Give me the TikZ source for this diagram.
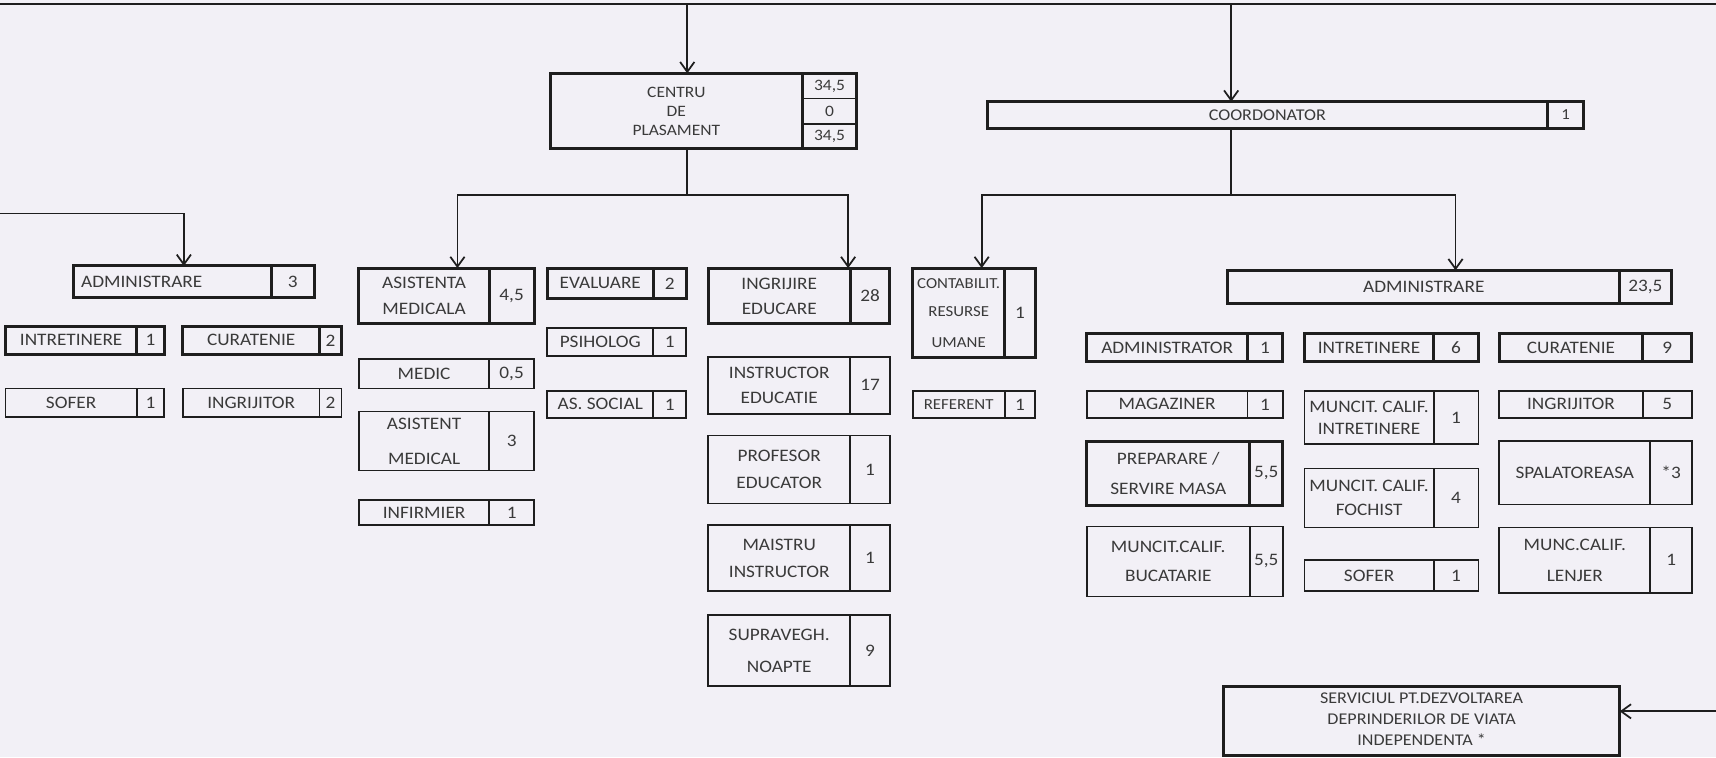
\documentclass[tikz,border=0pt]{standalone}
\usepackage{fontspec}
\setmainfont{Carlito}[FakeStretch=1.1]
\usetikzlibrary{arrows.meta,fit}
\definecolor{bg}{HTML}{F2F0F6}
\definecolor{ln}{HTML}{1E1E1E}
\definecolor{tx}{HTML}{3A3A3A}
\newcommand\smf{\fontsize{14}{24}\selectfont}
\tikzset{
  boxs/.style={draw=ln, inner sep=0pt, outer sep=0pt},
  bk/.style={line width=2.8pt},
  bn/.style={line width=1.6pt},
  lbl/.style={text=tx, align=center, font=\fontsize{16}{24}\selectfont, inner sep=0pt},
  num/.style={text=tx, font=\fontsize{16}{20}\selectfont, inner sep=0pt},
  con/.style={draw=ln, line width=1.6pt},
  arr/.style={con, -{Straight Barb[length=9pt,width=13pt]}},
}
% name, x1, y1, x2, y2, divider x, label, number, line style
\newcommand\obox[9]{%
  \node[boxs,#9,fit={(#2,#3) (#4,#5)}] (#1) {};
  \draw[ln,#9] (#6,#3) -- (#6,#5);
  \node[lbl] at ({(#2+#6)/2},{(#3+#5)/2}) {#7};
  \node[num] at ({(#6+#4)/2},{(#3+#5)/2}) {#8};
}
\begin{document}
\begin{tikzpicture}[x=1pt,y=-1pt]
\useasboundingbox[fill=bg] (0,0) rectangle (1568,692);

% top level boxes
\node[boxs,bk,fit={(503,67) (783,136)}] (centru) {};
\draw[ln,bk] (733,67) -- (733,136);
\draw[ln,bn] (733,90) -- (783,90);
\draw[ln,bn] (733,113) -- (783,113);
\node[lbl,font=\fontsize{14.5}{17.5}\selectfont] at (618,101.5) {CENTRU\\DE\\PLASAMENT};
\node[num,font=\fontsize{14.5}{17}\selectfont] at (758,78.5) {34,5};
\node[num,font=\fontsize{14.5}{17}\selectfont] at (758,101.5) {0};
\node[num,font=\fontsize{14.5}{17}\selectfont] at (758,124.5) {34,5};

\node[boxs,bk,fit={(902,93) (1447,117)}] (coord) {};
\draw[ln,bk] (1414,93) -- (1414,117);
\node[lbl,font=\fontsize{15}{18}\selectfont] at (1158,105) {COORDONATOR};
\node[num,font=\fontsize{14}{17}\selectfont] at (1430.5,105) {1};

% left group
\obox{adminL}{67}{243}{287}{272}{248}{ADMINISTRARE\hspace*{56pt}}{3}{bk}
\obox{intrL}{5}{298}{150}{324}{125}{INTRETINERE}{1}{bk}
\obox{curL}{167}{298}{312}{324}{292}{CURATENIE}{2}{bk}
\obox{soferL}{5}{355}{150}{381}{125}{SOFER}{1}{bn}
\obox{ingrL}{167}{355}{312}{381}{292}{INGRIJITOR}{2}{bn}

% medical
\obox{asist}{328}{245}{488}{296}{447}{ASISTENTA\\MEDICALA}{4,5}{bk}
\obox{medic}{328}{328}{488}{355}{447}{MEDIC}{0,5}{bn}
\obox{asistent}{328}{376}{488}{430}{447}{ASISTENT\\[8pt]MEDICAL}{3}{bn}
\obox{infirm}{328}{457}{488}{480}{447}{INFIRMIER}{1}{bn}

% evaluare
\obox{eval}{500}{245}{627}{273}{597}{EVALUARE}{2}{bk}
\obox{psih}{500}{300}{627}{325}{597}{PSIHOLOG}{1}{bn}
\obox{assoc}{500}{357}{627}{382}{597}{AS. SOCIAL}{1}{bn}

% ingrijire educare
\obox{ingr}{647}{245}{813}{296}{777}{INGRIJIRE\\[-1pt]EDUCARE}{28}{bk}
\obox{instr}{647}{326}{813}{378}{777}{INSTRUCTOR\\[-1pt]EDUCATIE}{17}{bn}
\obox{prof}{647}{398}{813}{460}{777}{PROFESOR\\[1pt]EDUCATOR}{1}{bn}
\obox{maistru}{647}{480}{813}{540}{777}{MAISTRU\\[1pt]INSTRUCTOR}{1}{bn}
\obox{suprav}{647}{562}{813}{627}{777}{SUPRAVEGH.\\[5pt]NOAPTE}{9}{bn}

% contabilitate
\obox{contab}{834}{245}{946}{327}{918}{\smf CONTABILIT.\\[2pt]\smf RESURSE\\[4pt]\smf UMANE}{1}{bk}
\obox{refer}{834}{357}{946}{382}{918}{\smf REFERENT}{1}{bn}

% administrare right
\obox{adminR}{1122}{247}{1527}{277}{1480}{ADMINISTRARE}{23,5}{bk}
\obox{admtor}{993}{305}{1172}{330}{1140}{ADMINISTRATOR}{1}{bk}
\obox{intrR}{1192}{305}{1351}{330}{1310}{INTRETINERE}{6}{bk}
\obox{curR}{1370}{305}{1546}{330}{1501}{CURATENIE}{9}{bk}
\obox{magaz}{993}{357}{1172}{382}{1140}{MAGAZINER}{1}{bn}
\obox{mintr}{1192}{357}{1351}{406}{1310}{MUNCIT. CALIF.\\[-4pt]INTRETINERE}{1}{bn}
\obox{ingrR}{1370}{357}{1546}{382}{1501}{INGRIJITOR}{5}{bn}
\obox{prep}{993}{403}{1172}{462}{1142}{PREPARARE /\\[4pt]SERVIRE MASA}{5,5}{bk}
\obox{foch}{1192}{428}{1351}{482}{1310}{MUNCIT. CALIF.\\[-2pt]FOCHIST}{4}{bn}
\obox{spal}{1370}{403}{1546}{461}{1508}{SPALATOREASA}{*3}{bn}
\obox{bucat}{993}{481}{1172}{545}{1142}{MUNCIT.CALIF.\\[3pt]BUCATARIE}{5,5}{bn}
\obox{soferR}{1192}{512}{1351}{540}{1310}{SOFER}{1}{bn}
\obox{lenjer}{1370}{482}{1546}{542}{1508}{MUNC.CALIF.\\[4pt]LENJER}{1}{bn}

% serviciu
\node[boxs,bk,fit={(1118,627) (1480,690)}] (serv) {};
\node[lbl,font=\fontsize{15}{19}\selectfont] at (1299,657) {SERVICIUL PT.DEZVOLTAREA\\DEPRINDERILOR DE VIATA\\INDEPENDENTA *};

% connectors
\coordinate (tl) at (0,4);
\coordinate (tr) at (1568,4);
\draw[con] (tl) -- (tr);
\coordinate (t1) at (628,4);
\coordinate (t2) at (1125,4);
\draw[arr] (t1) -- (centru.north -| t1);
\draw[arr] (t2) -- (coord.north -| t2);

\coordinate (j1) at (628,178);
\coordinate (ka) at (418,0);
\coordinate (ki) at (775,0);
\draw[con] (centru.south -| j1) -- (j1);
\draw[arr] (j1) -| (asist.north -| ka);
\draw[arr] (j1) -| (ingr.north -| ki);

\coordinate (j2) at (1125,178);
\coordinate (kc) at (897,0);
\coordinate (kr) at (1330,0);
\draw[con] (coord.south -| j2) -- (j2);
\draw[arr] (j2) -| (contab.north -| kc);
\draw[arr] (j2) -| (adminR.north -| kr);

\coordinate (ll) at (0,195);
\coordinate (kl) at (168,0);
\draw[arr] (ll) -| (adminL.north -| kl);

\coordinate (rr) at (1568,650);
\draw[arr] (rr) -- (serv.east |- rr);
\end{tikzpicture}
\end{document}
